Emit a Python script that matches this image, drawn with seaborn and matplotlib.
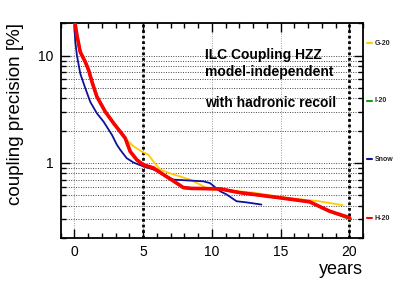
import numpy as np
import pandas as pd
import matplotlib
matplotlib.use('Agg')
import matplotlib.pyplot as plt
import matplotlib.ticker as mticker
import seaborn as sns

# Scenario curves (years vs coupling precision in %)
h20_years = [0.05, 0.19, 0.43, 0.8, 1.04, 1.28, 1.64, 2.25, 2.85, 3.33, 3.7, 4.06,
             4.54, 5.02, 5.75, 6.47, 7.2, 7.92, 8.5, 10.6, 12.0, 14.9, 17.1, 18.55, 20.0]
h20_prec = [20.0, 15.4, 10.8, 8.7, 7.3, 5.7, 4.14, 3.0, 2.35, 1.96, 1.70, 1.28,
            1.07, 0.96, 0.90, 0.78, 0.68, 0.59, 0.58, 0.574, 0.53, 0.475, 0.435, 0.356, 0.31]

# I-20 lies under H-20 almost everywhere, only its end peeks out
i20_years = [0.05, 0.19, 0.43, 0.8, 1.04, 1.28, 1.64, 2.25, 2.85, 3.33, 3.7, 4.06,
             4.54, 5.02, 5.75, 6.47, 7.2, 7.92, 8.5, 10.6, 12.0, 14.9, 17.1, 18.55, 20.1]
i20_prec = [20.0, 15.4, 10.8, 8.7, 7.3, 5.7, 4.14, 3.0, 2.35, 1.96, 1.70, 1.28,
            1.07, 0.96, 0.90, 0.78, 0.68, 0.59, 0.58, 0.574, 0.53, 0.475, 0.435, 0.356, 0.30]

g20_years = [0.05, 0.19, 0.43, 0.8, 1.04, 1.28, 1.64, 2.25, 2.85, 3.33, 3.7, 3.8,
             4.3, 4.9, 5.4, 5.75, 6.23, 6.96, 7.68, 8.4, 9.13, 9.86, 10.6, 13.0,
             15.4, 17.8, 19.5]
g20_prec = [20.0, 15.4, 10.8, 8.7, 7.3, 5.7, 4.14, 3.0, 2.35, 1.96, 1.70, 1.64,
            1.43, 1.28, 1.19, 1.03, 0.87, 0.80, 0.75, 0.70, 0.63, 0.565, 0.565, 0.53,
            0.475, 0.44, 0.405]

snow_years = [0.0, 0.07, 0.19, 0.43, 0.8, 1.16, 1.64, 2.12, 2.73, 3.09, 3.33, 3.8,
              4.3, 5.02, 5.75, 6.47, 7.2, 9.37, 9.86, 10.6, 11.06, 11.8, 12.5, 13.6]
snow_prec = [19.0, 13.4, 10.0, 6.8, 4.95, 3.7, 2.9, 2.43, 1.83, 1.48, 1.33, 1.11,
             1.01, 0.93, 0.87, 0.78, 0.70, 0.675, 0.65, 0.545, 0.51, 0.44, 0.43, 0.41]

scenarios = ['G-20', 'I-20', 'Snow', 'H-20']
colors = {'G-20': '#ffcc00', 'I-20': '#10a010', 'Snow': '#10109c', 'H-20': '#ff0000'}
widths = {'G-20': 1.3, 'I-20': 2.0, 'Snow': 1.3, 'H-20': 2.6}
series = {
    'G-20': (g20_years, g20_prec),
    'I-20': (i20_years, i20_prec),
    'Snow': (snow_years, snow_prec),
    'H-20': (h20_years, h20_prec),
}
phase_marks = [5, 20]

sns.set_theme(style="ticks")
plt.rcParams['font.family'] = ['Liberation Sans', 'DejaVu Sans']
plt.rcParams['text.color'] = 'black'
plt.rcParams['axes.labelcolor'] = 'black'

fig = plt.figure(figsize=(4.04, 2.91), dpi=100)
ax = fig.add_axes([0.150, 0.182, 0.749, 0.738])

for name in scenarios:
    yrs, prec = series[name]
    df = pd.DataFrame({'year': yrs, 'precision': prec})
    sns.lineplot(data=df, x='year', y='precision', ax=ax, color=colors[name],
                 lw=widths[name], estimator=None, sort=False, zorder=3)

ax.set_yscale('log')
ax.set_xlim(-1, 21)
ax.set_ylim(0.2, 20)

ax.xaxis.set_major_locator(mticker.MultipleLocator(5))
ax.xaxis.set_minor_locator(mticker.MultipleLocator(1))
ax.yaxis.set_major_locator(mticker.FixedLocator([1, 10]))
ax.yaxis.set_major_formatter(mticker.FuncFormatter(lambda v, p: f"{v:g}"))
ax.yaxis.set_minor_locator(mticker.LogLocator(base=10, subs=np.arange(2, 10)))
ax.yaxis.set_minor_formatter(mticker.NullFormatter())

ax.tick_params(which='both', direction='in', top=True, right=True,
               colors='black', labelsize=10, width=1.0)
ax.tick_params(which='major', length=6.5, pad=5)
ax.tick_params(which='minor', length=3.5)

ax.grid(axis='y', which='both', color='#444444', lw=0.7, ls=(0, (1, 1.5)))
ax.grid(axis='x', which='major', color='#999999', lw=0.7, ls=(0, (1, 1.5)))
for xm in phase_marks:
    ax.axvline(xm, color='black', lw=2.0, ls=(0, (1, 1)), zorder=2)

for side in ax.spines.values():
    side.set_color('black')
    side.set_linewidth(1.3)

ax.set_xlabel('years', fontsize=13, loc='right')
ax.xaxis.set_label_coords(1.0, -0.105)
ax.set_ylabel('')
ax.text(-0.148, 1.0, 'coupling precision [%]', transform=ax.transAxes,
        fontsize=13.5, rotation=90, ha='center', va='top')

ax.text(0.477, 0.852, 'ILC Coupling HZZ', transform=ax.transAxes,
        fontsize=10, fontweight='bold', va='center')
ax.text(0.477, 0.775, 'model-independent', transform=ax.transAxes,
        fontsize=10, fontweight='bold', va='center')
ax.text(0.477, 0.627, 'with hadronic recoil', transform=ax.transAxes,
        fontsize=10, fontweight='bold', va='center')

# scenario labels outside the right edge
label_y = {'G-20': 0.907, 'I-20': 0.639, 'Snow': 0.367, 'H-20': 0.092}
for name in scenarios:
    yy = label_y[name]
    ax.plot([1.011, 1.029], [yy, yy], transform=ax.transAxes, color=colors[name],
            lw=1.5, clip_on=False)
    ax.text(1.037, yy, name, transform=ax.transAxes, fontsize=5,
            fontweight='bold', va='center', color='#222222')

fig.savefig('out.png', dpi=100)
